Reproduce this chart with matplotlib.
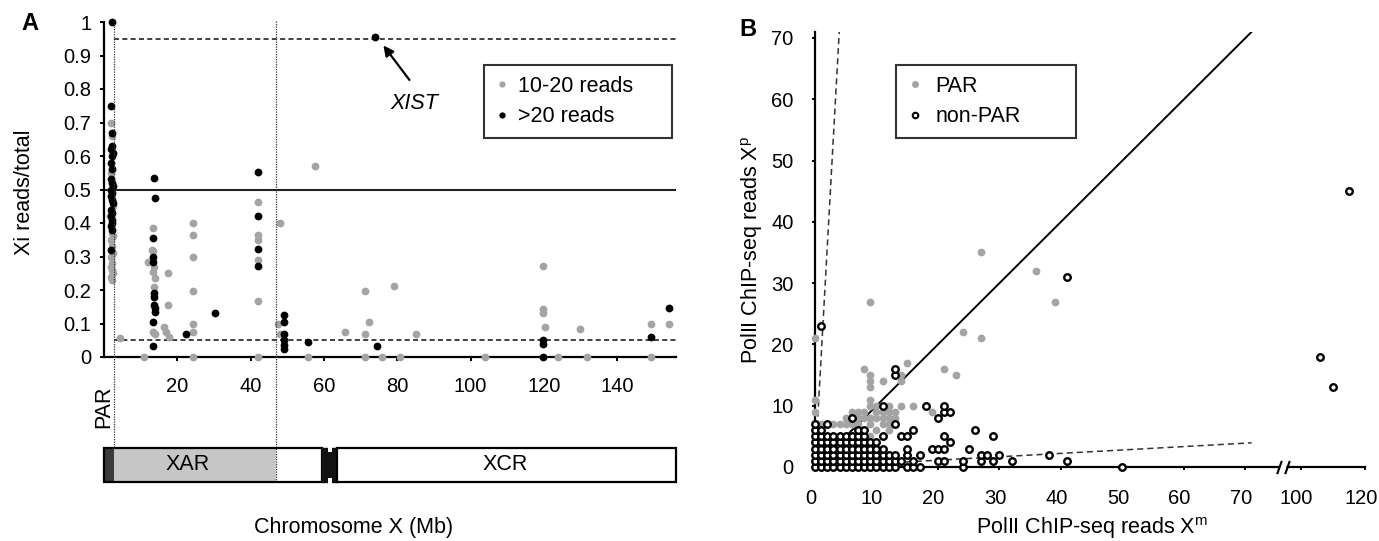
import matplotlib
matplotlib.use('Agg')
import matplotlib.pyplot as plt
import numpy as np
from matplotlib.patches import Rectangle
from matplotlib.lines import Line2D
import matplotlib.transforms as mtransforms

plt.rcParams['font.family'] = ['Liberation Sans', 'DejaVu Sans']
plt.rcParams['mathtext.fontset'] = 'custom'
plt.rcParams['mathtext.rm'] = 'Liberation Sans'

# ---------------- DATA ----------------
# Panel A : Xi reads / total along chromosome X (Mb)
gray_mb = [2.0, 2.3, 1.9, 2.4, 1.6, 2.1, 2.4, 1.9, 2.2, 2.5, 2.0, 2.3, 1.8, 2.1, 2.4, 2.0, 2.2,
           4.3, 10.8, 12.1, 13.3, 13.0, 13.3, 13.5, 13.3, 14.0, 13.5, 13.4, 13.8,
           17.4, 17.4, 16.3, 17.0, 17.6,
           24.4, 24.4, 24.4, 24.4, 24.4, 24.4, 24.4,
           42.0, 42.0, 42.0, 42.0, 42.0, 42.0,
           47.9, 47.5, 47.9,
           57.6, 55.5, 65.6, 71.1, 72.2, 71.1, 71.1, 75.9, 80.8, 79.0, 85.1, 103.8,
           119.7, 119.7, 119.7, 120.3, 123.8, 129.7, 131.7, 149.2, 149.2, 154.2]
gray_ratio = [0.70, 0.66, 0.55, 0.45, 0.42, 0.37, 0.36, 0.35, 0.33, 0.31, 0.30, 0.28, 0.27, 0.26, 0.25, 0.24, 0.23,
              0.056, 0.0, 0.285, 0.384, 0.32, 0.315, 0.27, 0.255, 0.235, 0.21, 0.076, 0.07,
              0.25, 0.155, 0.09, 0.076, 0.06,
              0.40, 0.364, 0.30, 0.198, 0.10, 0.076, 0.0,
              0.462, 0.364, 0.35, 0.29, 0.167, 0.0,
              0.40, 0.10, 0.068,
              0.571, 0.0, 0.076, 0.198, 0.103, 0.07, 0.0, 0.0, 0.0, 0.213, 0.068, 0.0,
              0.273, 0.142, 0.13, 0.09, 0.0, 0.083, 0.0, 0.098, 0.0, 0.098]

black_mb = [2.2, 2.0, 2.3, 2.1, 1.9, 2.4, 2.2, 2.0, 2.3, 1.9, 2.2, 2.4, 2.0, 2.3, 1.8, 2.1, 2.4,
            2.0, 2.2, 1.9, 2.3, 2.1, 1.8, 2.2, 2.0,
            13.6, 13.9, 13.4, 13.3, 13.4, 13.5, 13.6, 13.7, 14.0, 13.8, 13.4, 13.4,
            22.4, 30.4, 41.9, 41.9, 41.9, 41.9, 49.2, 49.2, 49.2, 49.2, 49.2, 49.2,
            55.5, 73.8, 74.4, 119.7, 119.7, 119.7, 149.2, 154.2]
black_ratio = [1.0, 0.75, 0.67, 0.63, 0.62, 0.61, 0.60, 0.58, 0.56, 0.53, 0.52, 0.51, 0.50, 0.49, 0.48, 0.47, 0.46,
               0.44, 0.43, 0.42, 0.41, 0.40, 0.39, 0.38, 0.32,
               0.533, 0.476, 0.354, 0.30, 0.285, 0.19, 0.18, 0.155, 0.145, 0.135, 0.105, 0.033,
               0.068, 0.13, 0.551, 0.422, 0.322, 0.273, 0.125, 0.105, 0.07, 0.05, 0.036, 0.023,
               0.046, 0.955, 0.034, 0.05, 0.04, 0.0, 0.061, 0.145]

A_yticks = [0, 0.1, 0.2, 0.3, 0.4, 0.5, 0.6, 0.7, 0.8, 0.9, 1.0]
A_yticklabels = ['0', '0.1', '0.2', '0.3', '0.4', '0.5', '0.6', '0.7', '0.8', '0.9', '1']
A_xticks = [20, 40, 60, 80, 100, 120, 140]
A_thresholds = [0.05, 0.5, 0.95]
xist_pos = (73.8, 0.955)
chrX_len = 156
par_end = 2.7
xar_end = 46.8
cen_start, cen_end = 59.4, 63.5

# Panel B : PolII ChIP-seq reads, maternal (Xm) vs paternal (Xp)
par_xm = [0, 0, 0, 9, 27, 36, 39, 24, 27, 15, 8, 9, 9, 9, 11, 14, 14, 21, 23, 9, 9, 10, 14, 16, 19,
          11, 11, 12, 12, 13, 8, 12, 6, 7, 5, 6, 7, 3, 4, 9, 10, 11, 12, 9, 10, 9, 11, 2, 5, 6, 7,
          10, 13, 12, 1, 8]
par_xp = [21, 11, 9, 27, 35, 32, 27, 22, 21, 17, 16, 15, 14, 13, 14, 15, 14, 16, 15, 11, 10, 10, 10, 10, 9,
          8, 7, 9, 8, 8, 8, 6, 9, 9, 8, 8, 8, 7, 7, 8, 9, 9, 7, 7, 6, 5, 5, 7, 7, 7, 7,
          8, 9, 10, 7, 9]

nonpar_xm = [0, 1, 2, 3, 4, 5, 6, 7, 8, 9, 10, 11, 12, 13, 15, 16, 17, 24, 50,
             0, 1, 2, 3, 4, 5, 6, 7, 8, 9, 10, 11, 12, 13, 14, 16, 20, 21, 24, 27, 29, 32, 41,
             0, 1, 2, 3, 4, 5, 6, 7, 8, 9, 10, 11, 12, 13, 15, 17, 27, 28, 30, 38,
             0, 1, 2, 3, 4, 5, 6, 7, 8, 9, 10, 11, 15, 19, 20, 21, 25,
             0, 1, 2, 3, 4, 5, 6, 7, 8, 9, 10, 22,
             0, 1, 2, 3, 4, 5, 6, 7, 8, 11, 14, 15, 21, 29,
             0, 1, 7, 8, 16, 26,
             0, 2, 13,
             6, 20,
             21, 22,
             11, 18, 21,
             13, 13, 1, 41, 106, 110, 115]
nonpar_xp = [0, 0, 0, 0, 0, 0, 0, 0, 0, 0, 0, 0, 0, 0, 0, 0, 0, 0, 0,
             1, 1, 1, 1, 1, 1, 1, 1, 1, 1, 1, 1, 1, 1, 1, 1, 1, 1, 1, 1, 1, 1, 1,
             2, 2, 2, 2, 2, 2, 2, 2, 2, 2, 2, 2, 2, 2, 2, 2, 2, 2, 2, 2,
             3, 3, 3, 3, 3, 3, 3, 3, 3, 3, 3, 3, 3, 3, 3, 3, 3,
             4, 4, 4, 4, 4, 4, 4, 4, 4, 4, 4, 4,
             5, 5, 5, 5, 5, 5, 5, 5, 5, 5, 5, 5, 5, 5,
             6, 6, 6, 6, 6, 6,
             7, 7, 7,
             8, 8,
             9, 9,
             10, 10, 10,
             15, 16, 23, 31, 18, 13, 45]

B_xticks = [0, 10, 20, 30, 40, 50, 60, 70, 100, 120]
B_yticks = [0, 10, 20, 30, 40, 50, 60, 70]
B_diag_end = 71
B_ratio = 18.0

GRAY = '#a4a4a4'
FS_TICK = 14.5
FS_TXT = 15.5

# ---------------- FIGURE ----------------
W, H = 1379, 541
fig = plt.figure(figsize=(W / 100, H / 100), dpi=100)


def fx(px):
    return px / W


def fy(py):
    return 1 - py / H


# ---------- Panel A ----------
axA = fig.add_axes([fx(104), fy(357), (676 - 104) / W, (357 - 22) / H])
axA.set_xlim(0, chrX_len)
axA.set_ylim(0, 1.0)
for s in ['top', 'right']:
    axA.spines[s].set_visible(False)
for s in ['left', 'bottom']:
    axA.spines[s].set_linewidth(1.6)
axA.set_yticks(A_yticks)
axA.set_yticklabels(A_yticklabels)
axA.set_xticks(A_xticks)
axA.set_xticklabels([str(v) for v in A_xticks])
axA.tick_params(axis='y', direction='out', length=3, width=1.4, pad=6, labelsize=FS_TICK)
axA.tick_params(axis='x', direction='out', length=3, width=1.4, pad=11.5, labelsize=FS_TICK)

axA.plot([0, chrX_len], [A_thresholds[1]] * 2, color='#222222', lw=1.5, zorder=1)
for yv in (A_thresholds[0], A_thresholds[2]):
    axA.plot([par_end, chrX_len], [yv, yv], color='#333333', lw=1.3,
             linestyle=(0, (2.8, 1.8)), zorder=1)

axA.plot(gray_mb, gray_ratio, 'o', color=GRAY, ms=5.6, mec='none', clip_on=False, zorder=3)
axA.plot(black_mb, black_ratio, 'o', color='black', ms=5.6, mec='none', clip_on=False, zorder=4)

# XIST annotation
axA.annotate('', xy=(xist_pos[0] + 2.4, xist_pos[1] - 0.025), xytext=(83.3, 0.827),
             arrowprops=dict(arrowstyle='-|>', color='black', lw=1.6, mutation_scale=15,
                             shrinkA=0, shrinkB=0))
axA.text(84.6, 0.758, 'XIST', fontsize=FS_TXT, style='italic', ha='center', va='center')

# legend A
hA = [Line2D([], [], marker='o', ls='none', color=GRAY, ms=4.5, mec='none'),
      Line2D([], [], marker='o', ls='none', color='black', ms=4.5, mec='none')]
legA = axA.legend(hA, ['10-20 reads', '>20 reads'], loc='upper left',
                  bbox_to_anchor=(0.664, 0.0, 0.329, 0.872), mode='expand',
                  fontsize=FS_TXT, frameon=True, fancybox=False, borderaxespad=0,
                  handlelength=0.7, handletextpad=0.4, borderpad=0.5, labelspacing=0.45)
legA.get_frame().set_edgecolor('black')
legA.get_frame().set_linewidth(1.5)

# vertical dotted lines spanning plot and chromosome bar
transA = mtransforms.blended_transform_factory(axA.transData, fig.transFigure)
for xv in (par_end, xar_end):
    axA.plot([xv, xv], [fy(21), fy(482)], transform=transA, color='#333333', lw=0.9,
             linestyle=(0, (1, 1)), clip_on=False, zorder=5)

# chromosome bar
axC = fig.add_axes([fx(104), fy(482), 572 / W, 34 / H])
axC.set_xlim(0, chrX_len)
axC.set_ylim(0, 1)
axC.axis('off')
axC.patch.set_alpha(0)
axC.add_patch(Rectangle((0, 0), par_end, 1, fc='#3a3a3a', ec='none', clip_on=False))
axC.add_patch(Rectangle((par_end, 0), xar_end - par_end, 1, fc='#c6c6c6', ec='none', clip_on=False))
axC.add_patch(Rectangle((0, 0), cen_start, 1, fc='none', ec='black', lw=1.6, clip_on=False))
axC.add_patch(Rectangle((cen_start, 0), cen_end - cen_start, 1, fc='#111111', ec='#111111', lw=1.0,
                        clip_on=False))
axC.add_patch(Rectangle((61.2, -0.05), 1.0, 0.16, fc='white', ec='none', clip_on=False, zorder=3))
axC.add_patch(Rectangle((61.2, 0.89), 1.0, 0.16, fc='white', ec='none', clip_on=False, zorder=3))
axC.add_patch(Rectangle((cen_end, 0), chrX_len - cen_end, 1, fc='white', ec='black', lw=1.6,
                        clip_on=False))
axC.text(22.9, 0.5, 'XAR', fontsize=FS_TXT, ha='center', va='center')
axC.text(109.4, 0.5, 'XCR', fontsize=FS_TXT, ha='center', va='center')

fig.text(fx(104), fy(407), 'PAR', rotation=90, fontsize=FS_TXT, ha='center', va='center')
fig.text(fx(25), fy(192), 'Xi reads/total', rotation=90, fontsize=FS_TXT, ha='center', va='center')
fig.text(fx(354), fy(528), 'Chromosome X (Mb)', fontsize=FS_TXT, ha='center', va='center')
fig.text(fx(30), fy(24), 'A', fontsize=17, fontweight='bold', ha='center', va='center')


# ---------- Panel B ----------
def fwd(x):
    x = np.asarray(x, dtype=float)
    return np.where(x <= 72, x, np.where(x < 100, 72 + (x - 72) * 0.25, 79 + (x - 100) * 0.525))


def inv(u):
    u = np.asarray(u, dtype=float)
    return np.where(u <= 72, u, np.where(u < 79, 72 + (u - 72) / 0.25, 100 + (u - 79) / 0.525))


axB = fig.add_axes([fx(815), fy(467), 550.4 / W, (467 - 31.8) / H])
axB.set_xscale('function', functions=(fwd, inv))
axB.set_xlim(0, 120)
axB.set_ylim(0, 71)
for s in ['top', 'right']:
    axB.spines[s].set_visible(False)
for s in ['left', 'bottom']:
    axB.spines[s].set_linewidth(1.6)
axB.set_xticks(B_xticks)
axB.set_xticklabels([str(v) for v in B_xticks])
axB.set_yticks(B_yticks)
axB.set_yticklabels([str(v) for v in B_yticks])
axB.minorticks_off()
axB.tick_params(axis='x', direction='out', length=2.5, width=1.4, pad=13, labelsize=FS_TICK)
axB.tick_params(axis='y', direction='out', length=2.5, width=1.4, pad=13, labelsize=FS_TICK)
shift = mtransforms.ScaledTranslation(-4.5 / 100, 0, fig.dpi_scale_trans)
for lab in axB.get_xticklabels():
    lab.set_transform(lab.get_transform() + shift)

axB.plot([0, B_diag_end], [0, B_diag_end], color='black', lw=1.4, zorder=1)
axB.plot([0, B_diag_end / B_ratio], [0, B_diag_end], color='#333333', lw=1.1,
         linestyle=(0, (4, 2.6)), zorder=1)
axB.plot([0, B_diag_end], [0, B_diag_end / B_ratio], color='#333333', lw=1.1,
         linestyle=(0, (4, 2.6)), zorder=1)

axB.plot(par_xm, par_xp, 'o', color=GRAY, ms=5.6, mec='none', clip_on=False, zorder=3)
axB.plot(nonpar_xm, nonpar_xp, 'o', mfc='white', mec='black', ms=4.7, mew=1.7,
         clip_on=False, zorder=4)

# axis break marks
axB.plot([86.0, 90.4], [0, 0], color='white', lw=3.5, clip_on=False, zorder=5,
         solid_capstyle='butt')
axB.plot([85.6, 90.8], [0, 0], ls='none', marker=[(-0.35, -1), (0.35, 1)], ms=9.5,
         mec='black', mew=1.5, clip_on=False, zorder=6)

hB = [Line2D([], [], marker='o', ls='none', color=GRAY, ms=5, mec='none'),
      Line2D([], [], marker='o', ls='none', mfc='white', mec='black', ms=4, mew=1.5)]
legB = axB.legend(hB, ['PAR', 'non-PAR'], loc='upper left',
                  bbox_to_anchor=(0.148, 0.0, 0.327, 0.924), mode='expand',
                  fontsize=FS_TXT, frameon=True, fancybox=False, borderaxespad=0,
                  handlelength=0.7, handletextpad=0.6, borderpad=0.5, labelspacing=0.45)
legB.get_frame().set_edgecolor('black')
legB.get_frame().set_linewidth(1.5)

fig.text(fx(752), fy(250), 'PolII ChIP-seq reads X$^\\mathrm{p}$', rotation=90, fontsize=FS_TXT,
         ha='center', va='center')
fig.text(fx(1092), fy(528), 'PolII ChIP-seq reads X$^\\mathrm{m}$', fontsize=FS_TXT,
         ha='center', va='center')
fig.text(fx(748), fy(30), 'B', fontsize=17, fontweight='bold', ha='center', va='center')

fig.savefig('out.png', dpi=100)
